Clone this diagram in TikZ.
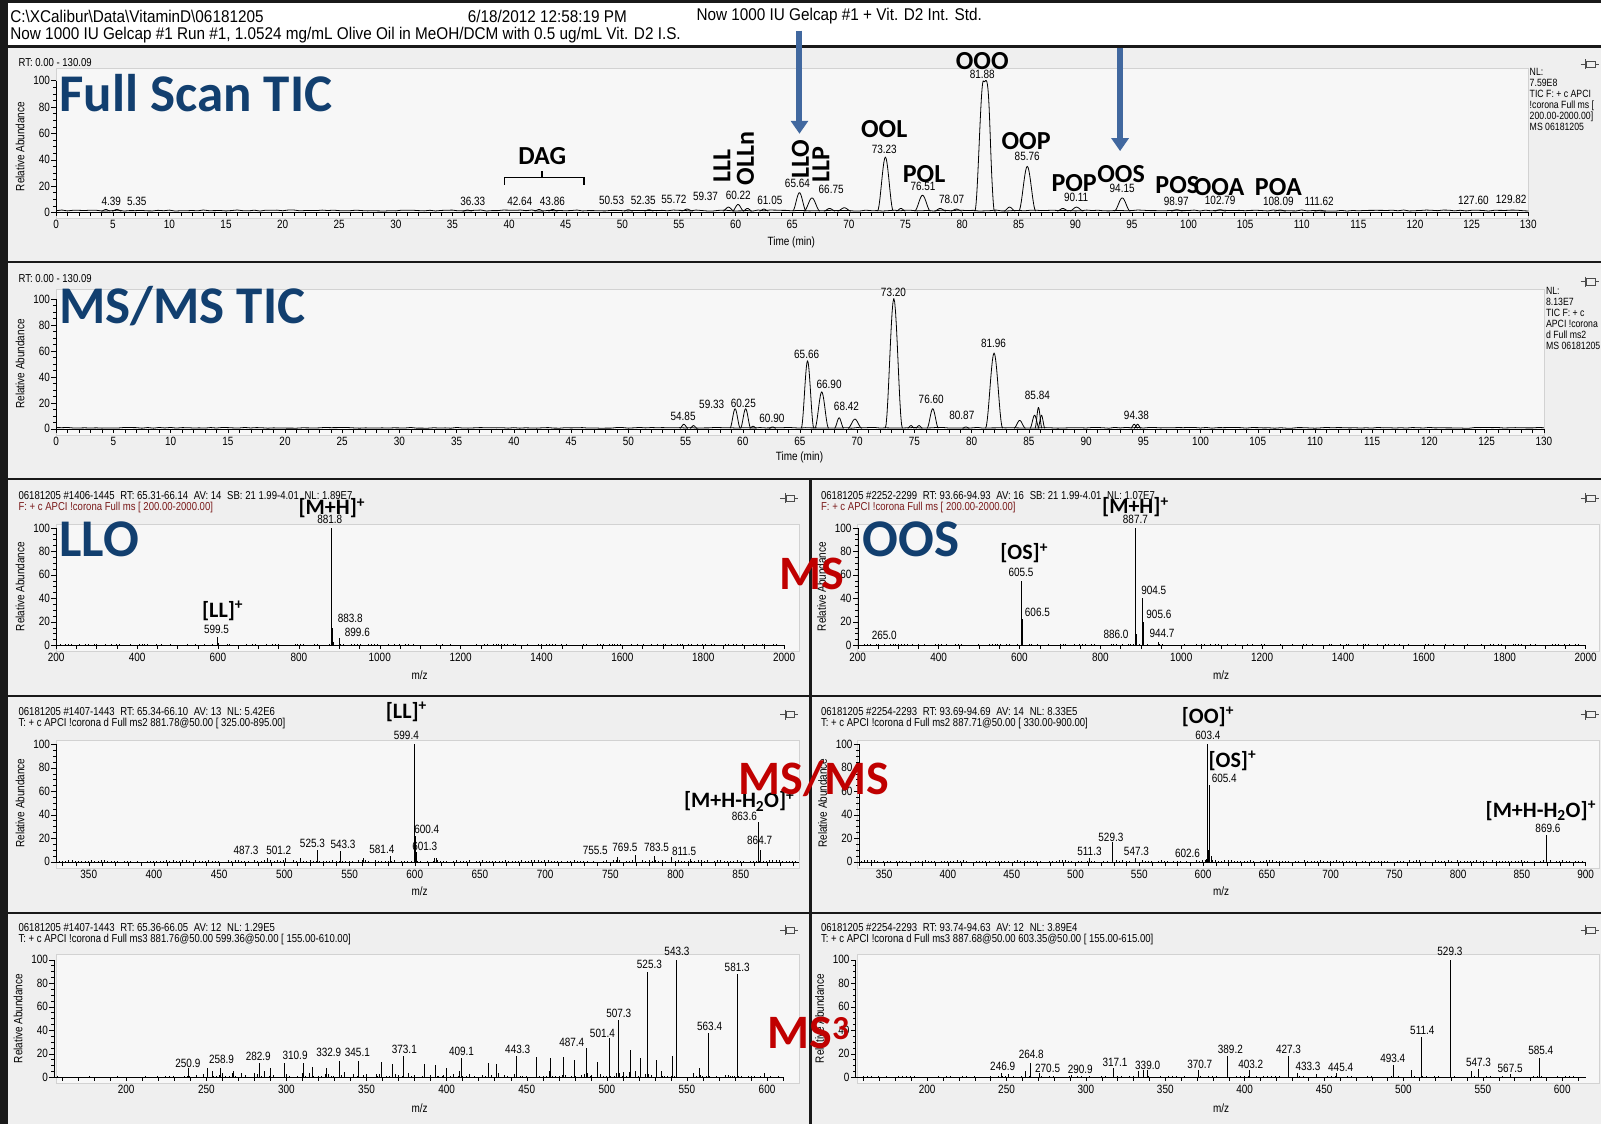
\documentclass[tikz,border=0pt]{standalone}
\usepackage{fontspec}
\usepackage{tikz}
\usetikzlibrary{arrows.meta}
\newfontfamily\xcal[FakeStretch=0.83]{Liberation Sans}
\newfontfamily\xhdr[FakeStretch=0.9]{Liberation Sans}
\newfontfamily\calib{Carlito}
\definecolor{titleblue}{HTML}{123F6F}
\definecolor{arrowblue}{HTML}{41689F}
\definecolor{msred}{HTML}{C00000}
\definecolor{scanred}{HTML}{7A1A1A}
\definecolor{panelgray}{HTML}{EFEFEF}
\definecolor{plotgray}{HTML}{F7F7F7}
\newcommand{\ionp}{\textsuperscript{+}}
\newcommand{\pinicon}[2]{\draw[black!70, line width=0.7pt] (#1-9,#2) -- (#1-4,#2) (#1-4,#2-5) -- (#1-4,#2+5) (#1-3,#2-3) rectangle (#1+5,#2+3) (#1+5,#2) -- (#1+9,#2);}
\newcommand{\yaxis}[1]{%
  \draw (#1,0) -- (#1,100);
  \foreach \a in {0,20,...,100} \draw (#1,\a) -- ++(-5pt,0pt) node[num,left=1pt] (ya\a) {\a};
  \foreach \a in {5,10,...,95} \draw (#1,\a) -- ++(-3pt,0pt);
  \node[xshift=-36pt,ylab] (yt) at (#1,50) {Relative Abundance};}
\newcommand{\xaxis}[4]{%
  \draw (#1,0) -- (#2,0);
  \foreach \t in {#3} \draw (\t,0) -- ++(0pt,-4pt);
  \foreach \t in {#4} \node[num,below=8pt] (xa\t) at (\t,0) {\t};}

\begin{document}
\begin{tikzpicture}[x=1.021pt,y=-1.021pt,
  num/.style={font=\xcal\fontsize{12}{12}\selectfont, inner sep=0pt},
  info/.style={font=\xcal\fontsize{11.5}{12}\selectfont, inner sep=0pt, anchor=west},
  hdr/.style={font=\xhdr\fontsize{17}{18}\selectfont, inner sep=0pt, anchor=west},
  nl/.style={font=\xcal\fontsize{10.5}{11}\selectfont, inner sep=0pt, anchor=north west, align=left},
  ylab/.style={num, rotate=90},
  pklbl/.style={font=\calib\bfseries\fontsize{26}{26}\selectfont, inner sep=0pt},
  ionlbl/.style={font=\calib\bfseries\fontsize{22}{22}\selectfont, inner sep=0pt},
  bigtitle/.style={font=\calib\bfseries\fontsize{53}{53}\selectfont, text=titleblue, inner sep=0pt, anchor=west},
  msmode/.style={font=\calib\bfseries\fontsize{48}{48}\selectfont, text=msred, inner sep=0pt},
  trace/.style={line width=0.8pt, line join=round},
  stick/.style={line width=0.9pt},
  noise/.style={line width=0.5pt},
  plotbox/.style={fill=plotgray, draw=gray!35, line width=0.6pt},
  down/.style={arrowblue, line width=6pt, -{Triangle[width=17pt,length=13pt]}},
  declare function={pk(\u,\c,\s)=max(0,1-abs(\u-\c)/\s)^2*(3-2*max(0,1-abs(\u-\c)/\s));}]
\pgfmathsetseed{42}
\useasboundingbox (0,0) rectangle (1568,1101);
\fill[black!90] (0,0) rectangle (1568,1101);
\fill[white] (8,3) rectangle (1568,44);
\fill[panelgray] (8,47) rectangle (1568,256);
\fill[panelgray] (8,258) rectangle (1568,468);
\foreach \y/\yy in {470/681,683/893,895/1101} {
  \fill[panelgray] (8,\y) rectangle (792,\yy);
  \fill[panelgray] (795,\y) rectangle (1568,\yy);}
\draw[plotbox] (55,67) rectangle (1497,214);
\draw[plotbox] (55,283) rectangle (1512,426);
\foreach \y/\yy in {513/638,725/850,935/1061} {
  \draw[plotbox] (55,\y) rectangle (783,\yy);
  \draw[plotbox] (840,\y) rectangle (1566,\yy);}

% header
\node[hdr] (path) at (10,16) {C:\textbackslash XCalibur\textbackslash Data\textbackslash VitaminD\textbackslash 06181205};
\node[hdr] (date) at (458,16) {6/18/2012 12:58:19 PM};
\node[hdr] (sample) at (682,16) {Now 1000 IU Gelcap \#1 + Vit. D2 Int. Std.};
\node[hdr] (desc) at (10,34) {Now 1000 IU Gelcap \#1 Run \#1, 1.0524 mg/mL Olive Oil in MeOH/DCM with 0.5 ug/mL Vit. D2 I.S.};

% full scan TIC
\node[info] (rt1) at (18,61) {RT: 0.00 - 130.09};
\node[nl] (nl1) at (1498,67) {NL:\\7.59E8\\TIC F: + c APCI\\!corona Full ms [\\200.00-2000.00]\\MS 06181205};
\pinicon{1557}{63}
\begin{scope}[shift={(55,208)}, x=11.323pt, y=1.317pt]
  \yaxis{0}
  \xaxis{0}{130}{0,...,130}{0,5,...,130}
  \draw[trace] plot[domain=0:130, samples=261] (\x,{1+0.8*rnd});
  \foreach \t/\h/\w in {4.39/1.2/.4, 5.35/1.2/.4, 36.33/.8/.4, 42.64/1.2/.4, 43.86/1.2/.4, 50.53/1/.4, 52.35/1/.4, 55.72/1.5/.5, 59.37/3/.5, 60.22/5/.5, 61.05/2/.4, 62.5/1.5/.4, 65.64/14/.6, 66.75/10/.7, 68.3/2/.5, 69.6/2.5/.6, 73.23/41/.7, 74.6/2/.4, 76.51/12/.7, 78.07/2/.5, 79.5/1.5/.5, 84.2/3/.5, 85.76/34/.75, 88.9/2/.5, 90.11/3/.6, 94.15/10/.7, 98.97/1/.5, 102.79/1/.5, 108.09/.8/.5, 111.62/.6/.5}
    \draw[trace] plot[domain=\t-\w:\t+\w, samples=21] (\x,{1+\h*pk(\x,\t,\w)});
  \draw[trace] plot[domain=81.1:83, samples=41] (\x,{1+99*pk(\x,81.88,.75)+55*pk(\x,82.38,.48)});
\end{scope}
\foreach \u/\v/\s [count=\i] in {109/197/4.39, 134/197/5.35, 463/197/36.33, 509/197/42.64, 541/197/43.86, 599/196/50.53, 630/196/52.35, 660/195/55.72, 691/192/59.37, 723/191/60.22, 754/196/61.05, 781/180/65.64, 814/185/66.75, 866/146/73.23, 904/183/76.51, 932/195/78.07, 962/73/81.88, 1006/153/85.76, 1054/193/90.11, 1099/184/94.15, 1152/197/98.97, 1195/196/102.79, 1252/197/108.09, 1292/197/111.62, 1443/196/127.60, 1480/195/129.82}
  \node[num] (fsl\i) at (\u,\v) {\s};
\node[num] (tm1) at (775,237) {Time (min)};
\node[bigtitle] (fs) at (58,91) {Full Scan TIC};
\node[pklbl] (dag) at (531,153) {DAG};
\draw[line width=1.6pt] (494,181) -- (494,174) -- (572,174) -- (572,181) (531,174) -- (531,167);
\node[pklbl, rotate=90] (lll) at (707,163) {LLL};
\node[pklbl, rotate=90] (olln) at (730,155) {OLLn};
\node[pklbl, rotate=90] (llo) at (784,156) {LLO};
\node[pklbl, rotate=90] (llp) at (804,161) {LLP};
\node[pklbl] (ool) at (866,126) {OOL};
\node[pklbl] (pol) at (905,170) {POL};
\node[pklbl] (ooo) at (962,60) {OOO};
\node[pklbl] (oop) at (1005,138) {OOP};
\node[pklbl] (pop) at (1052,179) {POP};
\node[pklbl] (oos) at (1098,170) {OOS};
\node[pklbl] (pos) at (1153,181) {POS};
\node[pklbl] (ooa) at (1194,183) {OOA};
\node[pklbl] (poa) at (1252,183) {POA};

% MS/MS TIC
\node[info] (rt2) at (18,273) {RT: 0.00 - 130.09};
\node[nl] (nl2) at (1514,281) {NL:\\8.13E7\\TIC F: + c\\APCI !corona\\d Full ms2\\MS 06181205};
\pinicon{1557}{276}
\begin{scope}[shift={(55,420)}, x=11.443pt, y=1.297pt]
  \yaxis{0}
  \xaxis{0}{130}{0,...,130}{0,5,...,130}
  \draw[trace] plot[domain=0:130, samples=261] (\x,{0.5+0.6*rnd});
  \foreach \t/\h/\w in {54.85/3/.35, 55.7/2/.3, 59.33/15/.45, 60.25/15/.45, 60.9/1.5/.3, 62.6/1/.3, 65.66/52/.55, 66.90/28/.6, 68.42/8/.4, 69.8/7/.6, 73.20/100/.75, 74.7/2/.3, 75.4/2/.3, 76.60/15/.5, 79.5/1/.3, 81.96/58/.75, 84.2/6/.5, 85.5/10/.4, 85.84/16/.3, 86.1/10/.3, 94.2/3/.3, 94.5/3/.3}
    \draw[trace] plot[domain=\t-\w:\t+\w, samples=21] (\x,{0.5+\h*pk(\x,\t,\w)});
\end{scope}
\foreach \u/\v/\s [count=\i] in {669/408/54.85, 697/396/59.33, 728/395/60.25, 756/410/60.90, 790/347/65.66, 812/376/66.90, 829/398/68.42, 875/286/73.20, 912/391/76.60, 942/407/80.87, 973/336/81.96, 1016/387/85.84, 1113/407/94.38}
  \node[num] (msl\i) at (\u,\v) {\s};
\node[num] (tm2) at (783,448) {Time (min)};
\node[bigtitle] (mst) at (58,300) {MS/MS TIC};

% LLO full MS
\node[info] (h3a) at (18,485) {06181205 \#1406-1445\enspace RT: 65.31-66.14\enspace AV: 14\enspace SB: 21 1.99-4.01\enspace NL: 1.89E7};
\node[info, text=scanred] (h3b) at (18,497) {F: + c APCI !corona Full ms [ 200.00-2000.00]};
\pinicon{773}{488}
\begin{scope}[shift={(-24.2,632)}, x=0.4044pt, y=1.174pt]
  \yaxis{200}
  \xaxis{200}{2000}{200,250,...,2000}{200,400,...,2000}
  \foreach \m in {202,209,...,1990} \draw[noise] (\m,0) -- (\m,{1.2*rnd});
  \foreach \m/\h in {599.5/7, 601/2, 881.8/100, 883.8/15, 885.5/3, 899.6/6, 901/2}
    \draw[stick] (\m,0) -- (\m,\h);
\end{scope}
\node[ionlbl] (mh1) at (325,498) {[M+H]\ionp};
\node[num] (p1a) at (323,509) {881.8};
\node[ionlbl] (ll1) at (218,598) {[LL]\ionp};
\node[num] (p1b) at (212,616) {599.5};
\node[num] (p1c) at (343,606) {883.8};
\node[num] (p1d) at (350,619) {899.6};
\node[num] (mz1) at (411,661) {m/z};
\node[bigtitle] (llot) at (58,528) {LLO};

% OOS full MS
\node[info] (h4a) at (804,485) {06181205 \#2252-2299\enspace RT: 93.66-94.93\enspace AV: 16\enspace SB: 21 1.99-4.01\enspace NL: 1.07E7};
\node[info, text=scanred] (h4b) at (804,497) {F: + c APCI !corona Full ms [ 200.00-2000.00]};
\pinicon{1557}{488}
\begin{scope}[shift={(760.8,632)}, x=0.4044pt, y=1.174pt]
  \yaxis{200}
  \xaxis{200}{2000}{200,250,...,2000}{200,400,...,2000}
  \foreach \m in {203,210,...,1990} \draw[noise] (\m,0) -- (\m,{1.2*rnd});
  \foreach \m/\h in {265/1.5, 605.5/55, 606.5/22, 886.0/15, 887.7/100, 889/10, 904.5/40, 905.6/20, 944.7/3}
    \draw[stick] (\m,0) -- (\m,\h);
\end{scope}
\node[ionlbl] (mh2) at (1112,497) {[M+H]\ionp};
\node[num] (p2a) at (1112,509) {887.7};
\node[ionlbl] (os1) at (1003,542) {[OS]\ionp};
\node[num] (p2b) at (1000,561) {605.5};
\node[num] (p2c) at (1016,600) {606.5};
\node[num] (p2d) at (1130,578) {904.5};
\node[num] (p2e) at (1135,602) {905.6};
\node[num] (p2f) at (1093,621) {886.0};
\node[num] (p2g) at (1138,620) {944.7};
\node[num] (p2h) at (866,622) {265.0};
\node[num] (mz2) at (1196,661) {m/z};
\node[bigtitle] (oost) at (845,528) {OOS};
\node[msmode] (ms1) at (795,562) {MS};

% LLO MS2
\node[info] (h5a) at (18,697) {06181205 \#1407-1443\enspace RT: 65.34-66.10\enspace AV: 13\enspace NL: 5.42E6};
\node[info] (h5b) at (18,709) {T: + c APCI !corona d Full ms2 881.78@50.00 [ 325.00-895.00]};
\pinicon{773}{700}
\begin{scope}[shift={(-360.1,844)}, x=1.304pt, y=1.174pt]
  \yaxis{325}
  \xaxis{325}{895}{330,340,...,890}{350,400,...,850}
  \foreach \m in {327,329.5,...,893} \draw[noise] (\m,0) -- (\m,{1.5*rnd});
  \foreach \m/\h in {487.3/3, 501.2/3, 512/3, 525.3/10, 543.3/9, 561/3, 581.4/5, 599.4/100, 600.4/22, 601.3/8, 615/3, 617/3, 755.5/4, 769.5/6, 783.5/5, 797/4, 811.5/2, 863.6/34, 864.7/10}
    \draw[stick] (\m,0) -- (\m,\h);
\end{scope}
\node[ionlbl] (ll2) at (398,697) {[LL]\ionp};
\node[num] (p3a) at (398,720) {599.4};
\foreach \u/\v/\s [count=\i] in {418/812/600.4, 416/829/601.3, 241/833/487.3, 273/833/501.2, 306/826/525.3, 336/827/543.3, 374/832/581.4, 583/833/755.5, 612/830/769.5, 643/830/783.5, 670/834/811.5, 729/800/863.6, 744/823/864.7}
  \node[num] (q3\i) at (\u,\v) {\s};
\node[ionlbl] (wl1) at (724,785) {[M+H-H\textsubscript{2}O]\ionp};
\node[num] (mz3) at (411,873) {m/z};

% OOS MS2
\node[info] (h6a) at (804,697) {06181205 \#2254-2293\enspace RT: 93.69-94.69\enspace AV: 14\enspace NL: 8.33E5};
\node[info] (h6b) at (804,709) {T: + c APCI !corona d Full ms2 887.71@50.00 [ 330.00-900.00]};
\pinicon{1557}{700}
\begin{scope}[shift={(428.8,844)}, x=1.2753pt, y=1.174pt]
  \yaxis{330}
  \xaxis{330}{900}{330,340,...,900}{350,400,...,900}
  \foreach \m in {332,334.5,...,898} \draw[noise] (\m,0) -- (\m,{1.3*rnd});
  \foreach \m/\h in {511.3/3, 529.3/17, 547.3/3, 602.6/2, 603.4/100, 604.4/10, 605.4/65, 606.4/5, 869.6/23}
    \draw[stick] (\m,0) -- (\m,\h);
\end{scope}
\node[ionlbl] (oo1) at (1183,702) {[OO]\ionp};
\node[num] (p4a) at (1183,720) {603.4};
\node[ionlbl] (os2) at (1207,745) {[OS]\ionp};
\node[num] (p4b) at (1199,762) {605.4};
\foreach \u/\v/\s [count=\i] in {1088/820/529.3, 1067/834/511.3, 1113/834/547.3, 1163/836/602.6, 1516/811/869.6}
  \node[num] (q4\i) at (\u,\v) {\s};
\node[ionlbl] (wl2) at (1509,794) {[M+H-H\textsubscript{2}O]\ionp};
\node[num] (mz4) at (1196,873) {m/z};
\node[msmode] (ms2) at (797,763) {MS/MS};

% LLO MS3
\node[info] (h7a) at (18,908) {06181205 \#1407-1443\enspace RT: 65.36-66.05\enspace AV: 12\enspace NL: 1.29E5};
\node[info] (h7b) at (18,920) {T: + c APCI !corona d Full ms3 881.76@50.00 599.36@50.00 [ 155.00-610.00]};
\pinicon{773}{911}
\begin{scope}[shift={(-190.2,1055)}, x=1.602pt, y=1.174pt]
  \yaxis{155}
  \xaxis{155}{610}{160,170,...,610}{200,250,...,600}
  \foreach \m in {157,159.5,...,608} \draw[noise] (\m,0) -- (\m,{0.8*rnd});
  \foreach \m in {236,238,...,598} \draw[noise] (\m,0) -- (\m,{6*rnd*rnd});
  \foreach \m/\h in {239/8, 250.9/8, 258.9/8, 267/5, 282.9/12, 290/8, 299/12, 310.9/12, 316/9, 325/8, 332.9/14, 345.1/14, 359/13, 366/11, 373.1/18, 386/11, 393/10, 400/8, 409.1/16, 426/12, 431/11, 443.3/18, 456/17, 465/16, 473/17, 480/15, 487.4/25, 494/13, 501.4/33, 507.3/49, 515/23, 521/16, 525.3/90, 531/15, 541/18, 543.3/100, 558/8, 563.4/38, 581.3/88}
    \draw[stick] (\m,0) -- (\m,\h);
\end{scope}
\foreach \u/\v/\s [count=\i] in {184/1041/250.9, 217/1038/258.9, 253/1035/282.9, 289/1034/310.9, 322/1031/332.9, 350/1031/345.1, 396/1028/373.1, 452/1030/409.1, 507/1028/443.3, 560/1021/487.4, 590/1012/501.4, 606/992/507.3, 636/944/525.3, 663/932/543.3, 695/1005/563.4, 722/947/581.3}
  \node[num] (q5\i) at (\u,\v) {\s};
\node[num] (mz5) at (411,1085) {m/z};

% OOS MS3
\node[info] (h8a) at (804,908) {06181205 \#2254-2293\enspace RT: 93.74-94.63\enspace AV: 12\enspace NL: 3.89E4};
\node[info] (h8b) at (804,920) {T: + c APCI !corona d Full ms3 887.68@50.00 603.35@50.00 [ 155.00-615.00]};
\pinicon{1557}{911}
\begin{scope}[shift={(597,1055)}, x=1.5877pt, y=1.174pt]
  \yaxis{155}
  \xaxis{155}{615}{160,170,...,610}{200,250,...,600}
  \foreach \m in {157,159.5,...,613} \draw[noise] (\m,0) -- (\m,{1.2*rnd});
  \foreach \m/\h in {246.9/4, 251/3, 262/5, 264.8/12, 270.5/4, 290.9/2, 317.1/8, 333/5, 336/6, 339.0/6, 370.7/6, 389.2/18, 403.2/6, 427.3/18, 433.3/4, 445.4/3, 458/4, 493.4/10, 505/6, 511.4/34, 529.3/100, 543/5, 547.3/7, 567.5/3, 585.4/16}
    \draw[stick] (\m,0) -- (\m,\h);
\end{scope}
\foreach \u/\v/\s [count=\i] in {982/1044/246.9, 1010/1033/264.8, 1026/1046/270.5, 1058/1047/290.9, 1092/1040/317.1, 1124/1043/339.0, 1175/1042/370.7, 1205/1028/389.2, 1225/1042/403.2, 1262/1028/427.3, 1281/1044/433.3, 1313/1045/445.4, 1364/1037/493.4, 1393/1009/511.4, 1420/932/529.3, 1448/1040/547.3, 1479/1046/567.5, 1509/1029/585.4}
  \node[num] (q6\i) at (\u,\v) {\s};
\node[num] (mz6) at (1196,1085) {m/z};
\node[msmode] (ms3) at (792,1012) {MS\textsuperscript{3}};

% arrows to the selected peaks
\coordinate (a1s) at (783,30);
\coordinate (a1e) at (783,131);
\coordinate (a2s) at (1097,47);
\coordinate (a2e) at (1097,148);
\draw[down] (a1s) -- (a1e);
\draw[down] (a2s) -- (a2e);
\end{tikzpicture}
\end{document}
